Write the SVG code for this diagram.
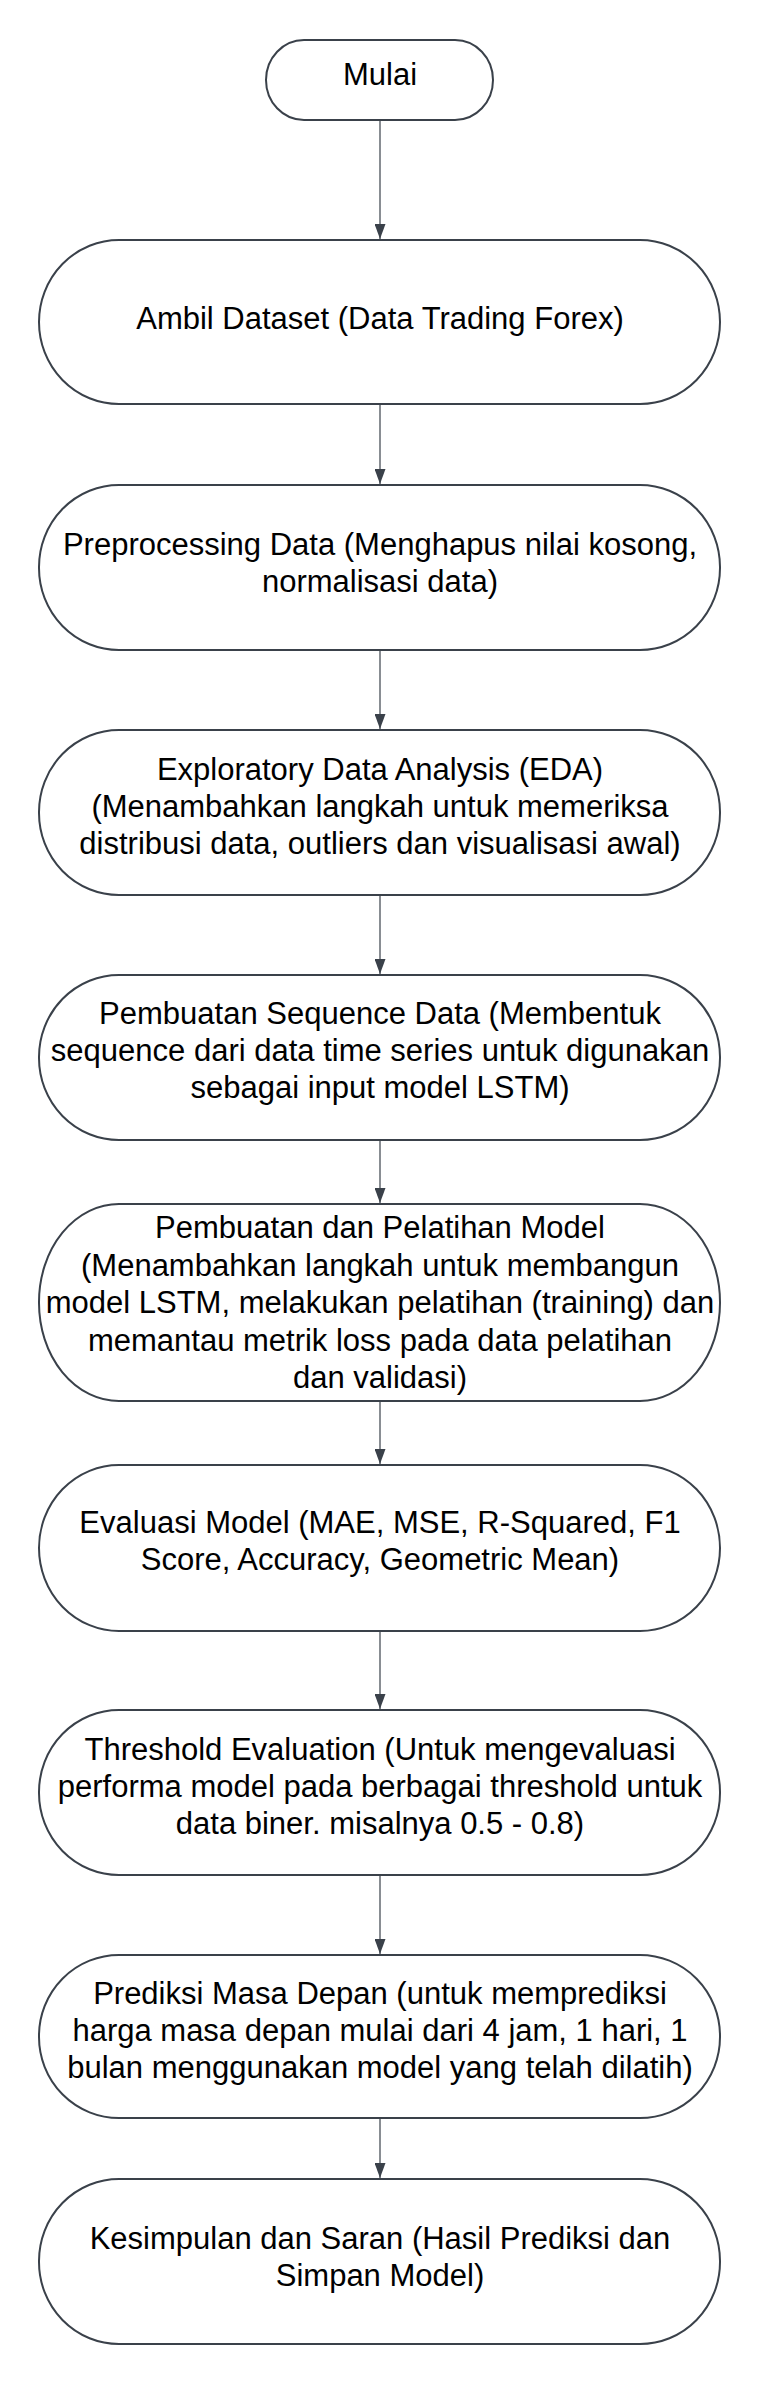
<svg xmlns="http://www.w3.org/2000/svg" width="760" height="2385" viewBox="0 0 760 2385">
<style>
.n{fill:#ffffff;stroke:#3a414a;stroke-width:2}
.t{font-family:"Liberation Sans",Arial,sans-serif;font-size:31px;fill:#000000;text-anchor:middle}
.c{stroke:#3a414a;stroke-width:1.2;fill:none}
</style>
<defs>
<marker id="ah" viewBox="0 0 15 11" markerWidth="15" markerHeight="11" refX="15" refY="5.5" orient="auto" markerUnits="userSpaceOnUse">
<path d="M0,0 L15,5.5 L0,11 z" fill="#3a414a"/>
</marker>
</defs>
<rect width="760" height="2385" fill="#ffffff"/>
<g id="connectors">
<line class="c" x1="380" y1="121" x2="380" y2="239" marker-end="url(#ah)"/>
<line class="c" x1="380" y1="405" x2="380" y2="484" marker-end="url(#ah)"/>
<line class="c" x1="380" y1="651" x2="380" y2="729" marker-end="url(#ah)"/>
<line class="c" x1="380" y1="896" x2="380" y2="974" marker-end="url(#ah)"/>
<line class="c" x1="380" y1="1141" x2="380" y2="1203" marker-end="url(#ah)"/>
<line class="c" x1="380" y1="1402" x2="380" y2="1464" marker-end="url(#ah)"/>
<line class="c" x1="380" y1="1632" x2="380" y2="1709" marker-end="url(#ah)"/>
<line class="c" x1="380" y1="1876" x2="380" y2="1954" marker-end="url(#ah)"/>
<line class="c" x1="380" y1="2119" x2="380" y2="2178" marker-end="url(#ah)"/>
</g>
<g id="n1">
<rect class="n" x="266" y="40" width="227" height="80" rx="38" ry="40"/>
<text class="t" x="380" y="85">Mulai</text>
</g>
<g id="n2">
<rect class="n" x="39" y="240" width="681" height="164" rx="80" ry="82"/>
<text class="t" x="380" y="329">Ambil Dataset (Data Trading Forex)</text>
</g>
<g id="n3">
<rect class="n" x="39" y="485" width="681" height="165" rx="80" ry="82"/>
<text class="t" x="380" y="555">Preprocessing Data (Menghapus nilai kosong,</text>
<text class="t" x="380" y="592">normalisasi data)</text>
</g>
<g id="n4">
<rect class="n" x="39" y="730" width="681" height="165" rx="80" ry="82"/>
<text class="t" x="380" y="780">Exploratory Data Analysis (EDA)</text>
<text class="t" x="380" y="817">(Menambahkan langkah untuk memeriksa</text>
<text class="t" x="380" y="854">distribusi data, outliers dan visualisasi awal)</text>
</g>
<g id="n5">
<rect class="n" x="39" y="975" width="681" height="165" rx="80" ry="82"/>
<text class="t" x="380" y="1024">Pembuatan Sequence Data (Membentuk</text>
<text class="t" x="380" y="1061">sequence dari data time series untuk digunakan</text>
<text class="t" x="380" y="1098">sebagai input model LSTM)</text>
</g>
<g id="n6">
<rect class="n" x="39" y="1204" width="681" height="197" rx="80" ry="98"/>
<text class="t" x="380" y="1238">Pembuatan dan Pelatihan Model</text>
<text class="t" x="380" y="1275.5">(Menambahkan langkah untuk membangun</text>
<text class="t" x="380" y="1313">model LSTM, melakukan pelatihan (training) dan</text>
<text class="t" x="380" y="1350.5">memantau metrik loss pada data pelatihan</text>
<text class="t" x="380" y="1388">dan validasi)</text>
</g>
<g id="n7">
<rect class="n" x="39" y="1465" width="681" height="166" rx="80" ry="83"/>
<text class="t" x="380" y="1533">Evaluasi Model (MAE, MSE, R-Squared, F1</text>
<text class="t" x="380" y="1570">Score, Accuracy, Geometric Mean)</text>
</g>
<g id="n8">
<rect class="n" x="39" y="1710" width="681" height="165" rx="80" ry="82"/>
<text class="t" x="380" y="1760">Threshold Evaluation (Untuk mengevaluasi</text>
<text class="t" x="380" y="1797">performa model pada berbagai threshold untuk</text>
<text class="t" x="380" y="1834">data biner. misalnya 0.5 - 0.8)</text>
</g>
<g id="n9">
<rect class="n" x="39" y="1955" width="681" height="163" rx="80" ry="81"/>
<text class="t" x="380" y="2004">Prediksi Masa Depan (untuk memprediksi</text>
<text class="t" x="380" y="2041">harga masa depan mulai dari 4 jam, 1 hari, 1</text>
<text class="t" x="380" y="2078">bulan menggunakan model yang telah dilatih)</text>
</g>
<g id="n10">
<rect class="n" x="39" y="2179" width="681" height="165" rx="80" ry="82"/>
<text class="t" x="380" y="2249">Kesimpulan dan Saran (Hasil Prediksi dan</text>
<text class="t" x="380" y="2286">Simpan Model)</text>
</g>
</svg>
